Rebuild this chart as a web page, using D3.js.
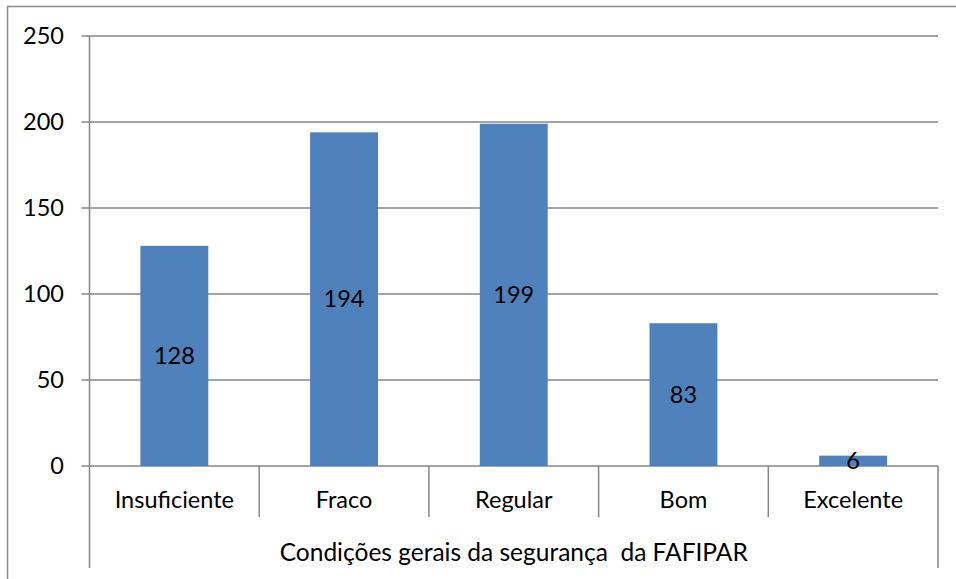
<!DOCTYPE html>
<html><head><meta charset="utf-8">
<script src="https://cdn.jsdelivr.net/npm/d3@7"></script>
<style>body{margin:0;background:#fff}svg{display:block}</style>
</head><body>
<script>
const categories = ["Insuficiente","Fraco","Regular","Bom","Excelente"];
const values = [128,194,199,83,6];
const yTicks = [0,50,100,150,200,250];
const axisTitle = "Condições gerais da segurança  da FAFIPAR";

const W=956,H=579;
const svg=d3.select("body").append("svg").attr("width",W).attr("height",H);
const font="Lato, 'Open Sans', sans-serif";
const grid="#868686";
const fs=23.5;

svg.append("rect").attr("x",7.5).attr("y",6.5).attr("width",W+10).attr("height",H+10)
  .attr("fill","none").attr("stroke","#8c8c8c").attr("stroke-width",1.5);

const L=89.5,R=938,T=36,B=466;
const x=d3.scaleBand().domain(categories).range([L,R]).paddingInner(0).paddingOuter(0);
const y=d3.scaleLinear().domain([0,250]).range([B,T]);

svg.append("g").selectAll("line").data(yTicks).join("line")
  .attr("x1",L-8).attr("x2",R).attr("y1",d=>y(d)).attr("y2",d=>y(d))
  .attr("stroke",grid).attr("stroke-width",1.5);
svg.append("line").attr("x1",L).attr("x2",L).attr("y1",T).attr("y2",568).attr("stroke",grid).attr("stroke-width",1.5);
svg.append("line").attr("x1",R).attr("x2",R).attr("y1",B).attr("y2",568).attr("stroke",grid).attr("stroke-width",1.5);
const seps=categories.slice(1).map(c=>x(c));
svg.append("g").selectAll("line").data(seps).join("line")
  .attr("x1",d=>d).attr("x2",d=>d).attr("y1",B).attr("y2",517).attr("stroke",grid).attr("stroke-width",1.5);

svg.append("g").selectAll("text").data(yTicks).join("text")
  .attr("x",64).attr("y",d=>y(d)).attr("dy","0.35em").attr("text-anchor","end")
  .attr("font-family",font).attr("font-size",fs).attr("fill","#000").text(d=>d);

const bw=x.bandwidth()*0.4;
svg.append("g").selectAll("rect").data(values).join("rect")
  .attr("x",(d,i)=>x(categories[i])+x.bandwidth()/2-bw/2).attr("width",bw)
  .attr("y",d=>y(d)).attr("height",d=>B-y(d)).attr("fill","#4F81BD");
svg.append("g").selectAll("text").data(values).join("text")
  .attr("x",(d,i)=>x(categories[i])+x.bandwidth()/2).attr("y",d=>(y(d)+B)/2).attr("dy","0.35em")
  .attr("text-anchor","middle").attr("font-family",font).attr("font-size",fs).attr("fill","#000").text(d=>d);

svg.append("g").selectAll("text").data(categories).join("text")
  .attr("x",d=>x(d)+x.bandwidth()/2).attr("y",500).attr("dy","0.35em")
  .attr("text-anchor","middle").attr("font-family",font).attr("font-size",fs).attr("fill","#000").text(d=>d);

svg.append("text").attr("x",(L+R)/2).attr("y",552).attr("dy","0.35em").attr("text-anchor","middle")
  .attr("font-family",font).attr("font-size",24.5).attr("fill","#000")
  .style("white-space","pre").text(axisTitle);
</script>
</body></html>
